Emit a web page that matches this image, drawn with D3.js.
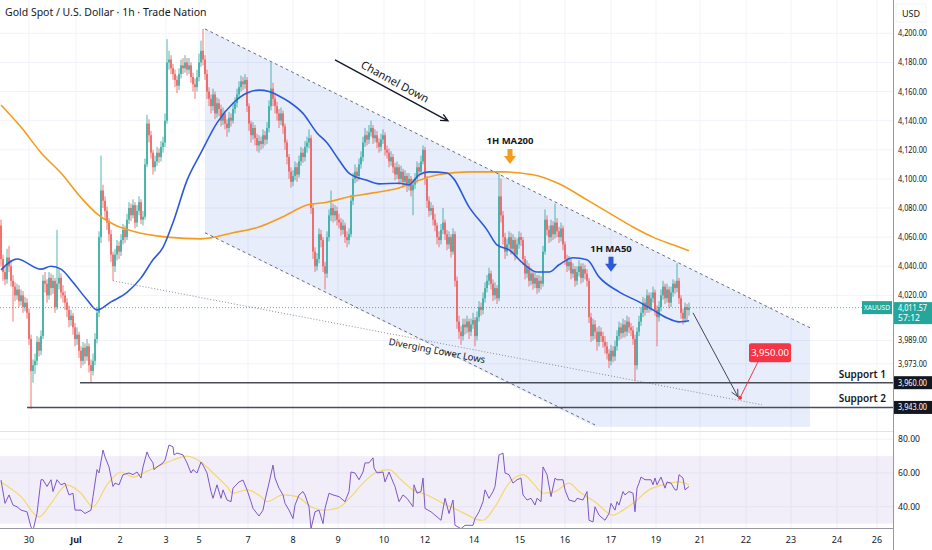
<!DOCTYPE html>
<html>
<head>
<meta charset="utf-8">
<script src="https://cdn.jsdelivr.net/npm/d3@7"></script>
<style>
body { margin: 0; background: #fff; }
svg { display: block; font-family: "Noto Sans", "DejaVu Sans", sans-serif; }
</style>
</head>
<body>
<svg id="chart" width="932" height="550"></svg>
<script>
// hourly candles, index 0 = first visible bar
var firstOpen = 4068;
var closes = [
	4045,4036,4031,4046,4040,4030,4026,4020,4024,4016,
	4020,4012,4015,4008,3990,3968,3972,3975,3988,3982,
	3992,4030,4028,4020,4032,4025,4030,4012,4028,4032,
	4022,4020,4015,4010,4003,4006,3998,3990,3993,3982,
	3975,3984,3978,3985,3972,3968,3975,3990,4008,4060,
	4092,4085,4078,4070,4062,4048,4040,4048,4054,4050,
	4058,4065,4060,4072,4080,4075,4082,4070,4078,4084,
	4072,4074,4110,4138,4130,4118,4108,4112,4118,4115,
	4122,4125,4140,4180,4182,4176,4172,4168,4164,4172,
	4178,4176,4180,4175,4178,4170,4165,4163,4170,4180,
	4188,4182,4172,4160,4155,4150,4158,4145,4152,4148,
	4140,4145,4138,4135,4142,4140,4148,4152,4158,4163,
	4167,4165,4168,4150,4138,4130,4135,4128,4123,4126,
	4124,4130,4127,4135,4150,4162,4155,4150,4145,4140,
	4145,4136,4125,4115,4105,4098,4102,4108,4103,4112,
	4118,4115,4122,4125,4128,4080,4050,4040,4045,4062,
	4058,4040,4035,4060,4075,4080,4075,4078,4072,4070,
	4065,4068,4060,4058,4062,4085,4100,4105,4102,4110,
	4115,4125,4130,4127,4132,4135,4128,4130,4125,4122,
	4127,4130,4120,4118,4112,4115,4108,4103,4108,4100,
	4105,4098,4102,4095,4100,4092,4096,4100,4108,4105,
	4112,4120,4100,4085,4078,4080,4072,4068,4060,4058,
	4065,4070,4062,4055,4060,4050,4062,4030,4002,3995,
	3992,4000,3998,4002,3995,4000,4003,3992,4005,4012,
	4010,4018,4025,4030,4035,4028,4020,4025,4018,4088,
	4075,4060,4050,4055,4060,4052,4058,4048,4055,4060,
	4058,4045,4035,4040,4030,4035,4028,4032,4025,4030,
	4028,4050,4072,4065,4060,4068,4062,4070,4064,4060,
	4066,4055,4045,4040,4043,4035,4038,4030,4036,4040,
	4032,4038,4035,4030,4005,3992,4000,3995,3988,3995,
	3992,3988,3985,3980,3975,3982,3978,3985,3992,3998,
	3994,4000,3995,4002,3998,3996,3990,3972,3995,4002,
	4008,4015,4010,4020,4012,4018,4022,4010,4005,4012,
	4020,4026,4018,4024,4015,4022,4028,4025,4030,4018,
	4008,4004,4012,4010,4011.57
];
var highs = [
	4072,4048,4040,4052,4054,4043,4034,4029,4028,4027,
	4024,4023,4019,4018,4011,3993,3976,3980,3992,3991,
	3996,4034,4036,4031,4036,4035,4034,4032,4065,4038,
	4035,4027,4023,4018,4013,4010,4008,4001,3998,3995,
	3985,3988,3987,3990,3987,3976,3980,3994,4012,4064,
	4116,4096,4088,4081,4073,4065,4050,4052,4058,4057,
	4062,4069,4068,4076,4084,4083,4086,4084,4082,4088,
	4086,4078,4114,4144,4141,4133,4120,4116,4122,4121,
	4126,4129,4145,4196,4188,4185,4179,4175,4171,4176,
	4182,4183,4185,4183,4183,4180,4173,4169,4175,4186,
	4195,4203,4185,4175,4163,4158,4162,4160,4156,4155,
	4151,4149,4147,4141,4146,4145,4152,4156,4162,4167,
	4171,4170,4172,4170,4152,4140,4139,4137,4131,4130,
	4129,4134,4133,4139,4154,4180,4166,4158,4153,4148,
	4149,4147,4138,4127,4117,4108,4106,4112,4111,4116,
	4122,4121,4126,4129,4134,4130,4083,4053,4049,4066,
	4065,4060,4043,4064,4079,4092,4083,4082,4081,4076,
	4073,4072,4070,4064,4066,4089,4104,4110,4108,4114,
	4119,4129,4135,4133,4137,4140,4137,4134,4133,4128,
	4131,4134,4132,4123,4121,4119,4117,4111,4112,4110,
	4109,4107,4106,4104,4104,4102,4100,4104,4112,4111,
	4116,4123,4122,4102,4088,4084,4082,4076,4070,4064,
	4069,4080,4072,4065,4064,4062,4066,4064,4033,4006,
	3999,4004,4004,4006,4004,4004,4008,4005,4009,4016,
	4015,4022,4029,4034,4039,4037,4031,4029,4027,4104,
	4100,4078,4063,4059,4064,4063,4062,4060,4059,4064,
	4063,4060,4047,4044,4042,4039,4037,4036,4034,4034,
	4033,4054,4079,4075,4068,4072,4071,4083,4073,4067,
	4070,4068,4057,4048,4047,4045,4042,4040,4040,4044,
	4042,4042,4041,4038,4032,4008,4004,4003,3998,3999,
	3998,3995,3992,3988,3983,3986,3985,3989,3996,4002,
	4001,4004,4003,4006,4005,4001,3999,3993,3998,4006,
	4012,4019,4018,4024,4022,4022,4026,4024,4013,4016,
	4024,4030,4028,4028,4026,4026,4031,4030,4042,4032,
	4020,4011,4015,4014,4015
];
var lows = [
	4040,4030,4027,4028,4036,4026,4002,4016,4017,4012,
	4013,4008,4009,4004,3986,3942,3960,3966,3972,3978,
	3979,3990,4022,4015,4017,4020,4021,4008,4010,4024,
	4018,4015,4010,4005,3998,3999,3993,3985,3986,3977,
	3970,3972,3973,3975,3967,3960,3965,3972,3987,4005,
	4056,4080,4072,4065,4057,4043,4030,4036,4044,4045,
	4047,4055,4056,4058,4069,4071,4073,4066,4067,4075,
	4069,4068,4072,4108,4125,4114,4103,4105,4109,4111,
	4112,4118,4122,4138,4175,4172,4168,4163,4159,4161,
	4169,4172,4173,4171,4172,4166,4160,4155,4160,4167,
	4177,4178,4168,4155,4150,4145,4147,4141,4142,4143,
	4136,4137,4134,4129,4132,4136,4138,4145,4149,4155,
	4160,4161,4162,4146,4133,4125,4127,4123,4119,4118,
	4120,4121,4123,4124,4132,4147,4150,4145,4140,4135,
	4137,4131,4120,4110,4100,4094,4095,4099,4098,4101,
	4109,4111,4112,4118,4121,4076,4045,4036,4037,4042,
	4053,4036,4024,4032,4057,4071,4070,4071,4068,4066,
	4061,4062,4056,4053,4055,4060,4082,4097,4098,4099,
	4107,4112,4122,4123,4124,4129,4124,4125,4121,4118,
	4119,4124,4116,4114,4108,4109,4104,4099,4100,4096,
	4097,4094,4095,4091,4092,4088,4075,4093,4097,4101,
	4103,4110,4096,4080,4074,4075,4068,4064,4055,4053,
	4055,4062,4058,4051,4052,4046,4048,4026,3997,3990,
	3986,3989,3993,3994,3990,3992,3997,3985,3989,4002,
	4006,4007,4015,4022,4027,4024,4016,4017,4014,4016,
	4070,4055,4045,4047,4052,4048,4049,4044,4045,4052,
	4054,4041,4031,4032,4026,4027,4024,4025,4021,4022,
	4024,4026,4048,4061,4056,4057,4058,4059,4060,4056,
	4057,4051,4041,4036,4037,4031,4032,4026,4027,4033,
	4028,4029,4031,4026,4001,3988,3989,3990,3982,3985,
	3988,3984,3980,3976,3970,3972,3974,3975,3982,3989,
	3990,3991,3991,3992,3994,3992,3986,3961,3969,3992,
	3999,4005,4006,4008,4008,4009,4015,4006,3985,4002,
	4009,4017,4014,4015,4011,4012,4019,4021,4022,4014,
	4004,4000,4001,4003,4006
];

// moving averages as [bar, price]
var ma50 = [
	[0,4037.5],[8,4045],[20,4038],[25,4040],[30,4038],[36,4029],[43,4017],[48,4010],
	[55,4015.5],[63,4022],[70,4032],[76,4044.4],[81,4053],[86,4070],[93,4099],[100,4118],
	[108,4138.5],[116,4152],[123,4159],[129,4161],[134,4160],[139,4157],[144,4153],[151,4145],
	[158,4131.6],[163,4124.8],[169,4113],[174,4104],[183,4099],[189,4096.6],[199,4097],[204,4096],
	[209,4102.8],[214,4104.8],[223,4104],[226,4100.7],[234,4080.8],[243,4065],[248,4054.7],[254,4051.3],
	[261,4042],[268,4036],[274,4036],[279,4041],[286,4045.8],[293,4044.4],[299,4032.7],[309,4022.4],
	[319,4015.5],[326,4010],[333,4004.5],[339,4001.8],[344,4002.5]
];
var ma200 = [
	[0,4150.8],[10,4135.6],[20,4118],[30,4104],[41,4085.6],[48,4076],[56,4069],[66,4064],
	[83,4060],[100,4058.8],[116,4063],[129,4067],[141,4074],[153,4082],[163,4084],[174,4087.7],
	[186,4090.4],[199,4093.8],[209,4099],[219,4103],[234,4104.8],[251,4104.8],[266,4102.8],[279,4096.6],
	[293,4085.6],[304,4076.7],[316,4067],[326,4060],[336,4054.7],[344,4050.6]
];

// RSI and its moving average, [bar, value]
var rsi = [
	[0,55.8],[2,42],[4,47],[6,41],[8,40],[10,38],[13,37],[15,28],[16,26],[18,36],[20,56],[21,56],
	[23,52],[25,56],[26,49],[28,56],[30,53],[32,54],[34,47],[36,48],[37,38],[40,38],[42,36],[45,38],
	[46,46],[48,62],[49,60],[51,73.6],[52,69.5],[54,63.6],[56,52],[57,54],[59,53],[61,59],[64,60],
	[66,59],[68,60.6],[70,57],[71,63.6],[73,72.5],[74,69.5],[76,66],[76.5,62],[78,63.6],[81,66],
	[82,67.7],[84,76.6],[86,75.5],[86.5,70.7],[88,71.8],[91,70.7],[93,66],[95,60],[96,62],[98,60],
	[100,66.5],[101,64.7],[103,60],[105,49],[106,45],[108,53],[110,45],[111,50],[113,44],[115,43],
	[116,51],[119,54.7],[121,55.8],[123,50],[125,43],[126,39],[129,34.5],[131,38],[132,44],[134,54],
	[136,64.7],[137,57],[139,51],[141,47],[142,42],[144,38],[146,33],[147,41],[149,47],[151,49],
	[152,47],[154,40],[155,27],[157,37],[159,38],[161,30],[162,39],[164,48],[166,47],[169,46],
	[171,44],[172,43],[174,49],[175,60.6],[177,60],[179,56],[181,60.6],[182,66],[184,66],[186,69],
	[186.5,63],[188,60],[191,60.6],[192,54.7],[194,60.6],[196,54.7],[197,52],[199,43],[201,47],
	[203,45],[206,40],[206.5,53],[208,48],[210,49],[211,57],[212,39],[215,37],[217,35],[220,32],
	[222,45],[224,36],[226,44],[227,29],[230,27],[232,29],[236,29],[237,33],[239,37],[241,43],
	[242,50],[244,45],[246,49],[247,52],[249,70.7],[251,71.8],[252,60],[254,59],[256,54],[258,56],
	[260,57],[261,47],[263,44],[265,45],[267,41],[268,45],[270,43],[271,63.6],[273,59],[275,46],
	[277,57],[278,56],[281,56],[282,50],[284,44],[287,43],[288,45],[291,44],[293,49],[294,32],
	[296,31],[297,40],[299,35],[301,33],[302,32],[304,36],[305,42],[307,38],[308,43],[309,41],
	[311,49],[312,47],[314,49],[316,48],[317,37],[318,51],[319,54],[320,57.6],[322,56],[323,56],
	[325,56],[326,53],[327,57],[328,53],[330,57.6],[332,51],[333,54.7],[335,54],[337,50],[338,50],
	[339,59],[341,57],[342,50],[343,51],[344,52]
];
var rsiMa = [
	[0,54.7],[10,46],[19,34],[25,42],[33,53],[40,48],[46,40],[53,53],[60,60.6],[66,57.6],[71,60],
	[78,63.6],[86,67.7],[93,70],[100,66.5],[106,60],[113,52],[116,48],[123,50],[130,46],[133,43],
	[141,47],[148,46],[155,40],[161,38],[168,39],[175,46],[181,54],[188,60.6],[194,62],[200,56],
	[206,50],[213,47],[221,42],[230,37],[235,34],[237,32.7],[241,32],[247,40],[254,54],[261,59],
	[266,54],[271,48],[277,49],[284,54],[289,49],[297,43],[306,35],[311,38],[317,43],[324,50],
	[331,53],[339,54.7],[344,53]
];

var priceTicks = [4200, 4180, 4160, 4140, 4120, 4100, 4080, 4060, 4040, 4020, 3989, 3973];
var rsiTicks = [80, 60, 40];
var dateTicks = [14, 37.5, 59.5, 82.5, 99, 123.5, 146, 168.5, 191.5, 212, 236.5, 259.5, 282, 305, 327.5, 349.5, 372.5, 395, 418, 438];
var dateLabels = ["30", "Jul", "2", "3", "5", "7", "8", "9", "10", "12", "14", "15", "16", "17", "19", "21", "22", "23", "24", "26"];

var lastPrice = 4011.57;
var countdown = "57:12";
var supports = [
	{ name: "Support 1", price: 3960, from: 39.5 },
	{ name: "Support 2", price: 3943, from: 13 }
];
// drawn objects, in [bar, price]
var channelTop = [[102, 4203], [404.5, 3997.7]];
var channelBottom = [[102, 4063], [297, 3931]];
var channelFill = [[102, 4203], [404.5, 3997.7], [404.5, 3929.7], [297, 3929.7], [102, 4063]];
var lowerLows = [[56, 4030], [380.5, 3944.8]];
var trendArrow = [[167, 4181.8], [223.5, 4139.9]];
var projection = [[346, 4008], [368.5, 3950.3]];
var target = { bar: 369.5, price: 3949.6, boxBar: 384.5, boxPrice: 3980.5, label: "3,950.00" };
var callouts = [
	{ label: "1H MA200", bar: 254.5, price: 4124, color: "#f59c1a" },
	{ label: "1H MA50", bar: 305, price: 4050, color: "#2a5ad8" }
];

var plotR = 893;
var svg = d3.select("#chart");
var x = d3.scaleLinear().domain([-0.5, 446]).range([0, plotR]);
var y = d3.scaleLinear().domain([3927.5, 4222.9]).range([430, 0]);
var yr = d3.scaleLinear().domain([27.4, 84.3]).range([528, 432]);
var fmt = d3.format(",.2f");
var upColor = "#26a69a", downColor = "#ef5350";

var defs = svg.append("defs");
defs.append("clipPath").attr("id", "clipPrice")
	.append("rect").attr("x", 0).attr("y", 0).attr("width", plotR).attr("height", 430);
defs.append("clipPath").attr("id", "clipRsi")
	.append("rect").attr("x", 0).attr("y", 432).attr("width", plotR).attr("height", 96);

// grid
var grid = svg.append("g").attr("stroke", "#f0f3fa").attr("stroke-width", 1);
grid.selectAll("line.v").data(dateTicks).enter().append("line")
	.attr("x1", function(d) { return x(d); }).attr("x2", function(d) { return x(d); })
	.attr("y1", 0).attr("y2", 528);
grid.selectAll("line.h").data(priceTicks).enter().append("line")
	.attr("x1", 0).attr("x2", plotR)
	.attr("y1", function(d) { return y(d); }).attr("y2", function(d) { return y(d); });
grid.selectAll("line.r").data(rsiTicks).enter().append("line")
	.attr("x1", 0).attr("x2", plotR)
	.attr("y1", function(d) { return yr(d); }).attr("y2", function(d) { return yr(d); });

var pt = function(d) { return [x(d[0]), y(d[1])]; };
var line = d3.line().x(function(d) { return x(d[0]); }).y(function(d) { return y(d[1]); });

var pricePane = svg.append("g").attr("clip-path", "url(#clipPrice)");

// channel background
pricePane.append("path")
	.attr("d", line(channelFill) + "Z")
	.attr("fill", "rgba(66,103,230,0.12)");

// candles
var bars = pricePane.append("g");
closes.forEach(function(c, i) {
	var o = i === 0 ? firstOpen : closes[i - 1];
	var col = c >= o ? upColor : downColor;
	var cx = x(i);
	bars.append("line")
		.attr("x1", cx).attr("x2", cx)
		.attr("y1", y(highs[i])).attr("y2", y(lows[i]))
		.attr("stroke", col).attr("stroke-width", 0.8);
	var top = y(Math.max(o, c)), bot = y(Math.min(o, c));
	bars.append("rect")
		.attr("x", cx - 0.7).attr("width", 1.4)
		.attr("y", top).attr("height", Math.max(bot - top, 0.8))
		.attr("fill", col);
});

// moving averages
var smooth = d3.line().curve(d3.curveMonotoneX)
	.x(function(d) { return x(d[0]); }).y(function(d) { return y(d[1]); });
pricePane.append("path").attr("d", smooth(ma200))
	.attr("fill", "none").attr("stroke", "#f59c1a").attr("stroke-width", 1.6);
pricePane.append("path").attr("d", smooth(ma50))
	.attr("fill", "none").attr("stroke", "#2a5ad8").attr("stroke-width", 1.6);

// channel lines
[channelTop, channelBottom].forEach(function(seg) {
	pricePane.append("path").attr("d", line(seg))
		.attr("fill", "none").attr("stroke", "#6a6d78").attr("stroke-width", 1)
		.attr("stroke-dasharray", "3,3");
});
pricePane.append("path").attr("d", line(lowerLows))
	.attr("fill", "none").attr("stroke", "#8a8d97").attr("stroke-width", 1)
	.attr("stroke-dasharray", "1,2");

// current price
pricePane.append("line")
	.attr("x1", 0).attr("x2", plotR).attr("y1", y(lastPrice)).attr("y2", y(lastPrice))
	.attr("stroke", upColor).attr("stroke-width", 1).attr("stroke-dasharray", "1,2").attr("opacity", 0.8);

// supports
supports.forEach(function(s) {
	pricePane.append("line")
		.attr("x1", x(s.from)).attr("x2", plotR).attr("y1", y(s.price)).attr("y2", y(s.price))
		.attr("stroke", "#4a4d57").attr("stroke-width", 1.6);
	pricePane.append("text")
		.attr("x", 886).attr("y", y(s.price) - 5)
		.attr("text-anchor", "end").attr("font-size", 10).attr("font-weight", 600)
		.attr("fill", "#131722").text(s.name);
});

function arrow(g, seg, color, width) {
	var a = pt(seg[0]), b = pt(seg[1]);
	var ang = Math.atan2(b[1] - a[1], b[0] - a[0]);
	var L = 8, spread = 0.45;
	var h1 = [b[0] - L * Math.cos(ang - spread), b[1] - L * Math.sin(ang - spread)];
	var h2 = [b[0] - L * Math.cos(ang + spread), b[1] - L * Math.sin(ang + spread)];
	g.append("path")
		.attr("d", "M" + a + "L" + b + "M" + h1 + "L" + b + "L" + h2)
		.attr("fill", "none").attr("stroke", color).attr("stroke-width", width);
	return ang * 180 / Math.PI;
}

var ann = svg.append("g");
var trendAngle = arrow(ann, trendArrow, "#131722", 1.3);
ann.append("text")
	.attr("transform", "translate(" + x(197) + "," + y(4166.7) + ") rotate(" + trendAngle + ")")
	.attr("text-anchor", "middle").attr("dy", "0.35em")
	.attr("font-size", 11).attr("fill", "#131722").text("Channel Down");

arrow(ann, projection, "#434651", 1);

var llAngle = Math.atan2(y(lowerLows[1][1]) - y(lowerLows[0][1]), x(lowerLows[1][0]) - x(lowerLows[0][0])) * 180 / Math.PI;
ann.append("text")
	.attr("transform", "translate(" + x(218) + "," + y(3982) + ") rotate(" + llAngle + ")")
	.attr("text-anchor", "middle").attr("dy", "0.35em")
	.attr("font-size", 9.5).attr("fill", "#131722").text("Diverging Lower Lows");

// MA callouts with down arrows
callouts.forEach(function(c) {
	var cx = x(c.bar), cy = y(c.price);
	ann.append("text").attr("x", cx).attr("y", cy)
		.attr("text-anchor", "middle").attr("font-size", 9.5).attr("font-weight", 700)
		.attr("fill", "#131722").text(c.label);
	var t = cy + 5;
	ann.append("path")
		.attr("d", "M" + (cx - 2.5) + "," + t + "H" + (cx + 2.5) + "V" + (t + 7) + "H" + (cx + 6) +
			"L" + cx + "," + (t + 15) + "L" + (cx - 6) + "," + (t + 7) + "H" + (cx - 2.5) + "Z")
		.attr("fill", c.color);
});

// target
var tp = [x(target.bar), y(target.price)];
var bp = [x(target.boxBar), y(target.boxPrice)];
ann.append("line").attr("x1", tp[0]).attr("y1", tp[1]).attr("x2", bp[0] - 12).attr("y2", bp[1] + 9)
	.attr("stroke", "#f23645").attr("stroke-width", 1);
ann.append("circle").attr("cx", tp[0]).attr("cy", tp[1]).attr("r", 2).attr("fill", "#f23645");
ann.append("rect").attr("x", bp[0] - 21).attr("y", bp[1] - 9.5).attr("width", 42).attr("height", 19)
	.attr("rx", 2).attr("fill", "#f23645");
ann.append("text").attr("x", bp[0]).attr("y", bp[1]).attr("dy", "0.35em")
	.attr("text-anchor", "middle").attr("font-size", 9.5).attr("fill", "#fff").text(target.label);

// RSI pane
svg.append("rect").attr("x", 0).attr("width", plotR)
	.attr("y", yr(70)).attr("height", yr(30) - yr(70))
	.attr("fill", "rgba(126,87,194,0.1)");
var rsiPane = svg.append("g").attr("clip-path", "url(#clipRsi)");
var rline = d3.line().x(function(d) { return x(d[0]); }).y(function(d) { return yr(d[1]); });
rsiPane.append("path").attr("d", d3.line().curve(d3.curveMonotoneX)
		.x(function(d) { return x(d[0]); }).y(function(d) { return yr(d[1]); })(rsiMa))
	.attr("fill", "none").attr("stroke", "#f5d76e").attr("stroke-width", 1.2);
rsiPane.append("path").attr("d", rline(rsi))
	.attr("fill", "none").attr("stroke", "#7e57c2").attr("stroke-width", 1);

// axes borders
svg.append("line").attr("x1", plotR + 0.5).attr("x2", plotR + 0.5).attr("y1", 0).attr("y2", 550)
	.attr("stroke", "#9598a1").attr("stroke-width", 1);
svg.append("line").attr("x1", 0).attr("x2", plotR).attr("y1", 528.5).attr("y2", 528.5)
	.attr("stroke", "#9598a1").attr("stroke-width", 1);
svg.append("line").attr("x1", 0).attr("x2", plotR).attr("y1", 431.5).attr("y2", 431.5)
	.attr("stroke", "#e0e3eb").attr("stroke-width", 1);

// right-hand labels squeezed to the narrow price scale
function axisLabel(g, txt, yy, color) {
	return g.append("text").attr("x", 898).attr("y", yy).attr("dy", "0.35em")
		.attr("font-size", 8.5).attr("fill", color)
		.attr("textLength", txt.length > 6 ? 29 : txt.length * 4.4)
		.attr("lengthAdjust", "spacingAndGlyphs")
		.text(txt);
}
var axisText = svg.append("g");
priceTicks.forEach(function(d) { axisLabel(axisText, fmt(d), y(d), "#131722"); });
rsiTicks.forEach(function(d) { axisLabel(axisText, fmt(d), yr(d), "#131722"); });
axisText.selectAll("text.d").data(dateTicks).enter().append("text")
	.attr("x", function(d) { return x(d); }).attr("y", 543)
	.attr("text-anchor", "middle").attr("font-size", 9).attr("fill", "#131722")
	.attr("font-weight", function(d, i) { return dateLabels[i] === "Jul" ? 700 : 400; })
	.text(function(d, i) { return dateLabels[i]; });

svg.append("rect").attr("x", 896).attr("y", 4).attr("width", 30).attr("height", 18)
	.attr("fill", "#fff").attr("stroke", "#f0f3fa");
svg.append("text").attr("x", 902).attr("y", 17).attr("font-size", 9).attr("fill", "#131722").text("USD");

// last price tags
var ly = y(lastPrice);
svg.append("rect").attr("x", 862).attr("y", ly - 6.5).attr("width", 30).attr("height", 13).attr("fill", upColor);
svg.append("text").attr("x", 877).attr("y", ly).attr("dy", "0.35em").attr("text-anchor", "middle")
	.attr("font-size", 7).attr("fill", "#fff").attr("textLength", 26).attr("lengthAdjust", "spacingAndGlyphs")
	.text("XAUUSD");
svg.append("rect").attr("x", plotR + 1).attr("y", ly - 5.5).attr("width", 38).attr("height", 22).attr("fill", upColor);
axisLabel(svg, fmt(lastPrice), ly + 0.5, "#fff");
axisLabel(svg, countdown, ly + 10.5, "#fff");

supports.forEach(function(s) {
	svg.append("rect").attr("x", plotR + 1).attr("y", y(s.price) - 6.5).attr("width", 38).attr("height", 13).attr("fill", "#131722");
	axisLabel(svg, fmt(s.price), y(s.price), "#fff");
});

// title
svg.append("text").attr("x", 5).attr("y", 16).attr("font-size", 10.5).attr("fill", "#131722")
	.text("Gold Spot / U.S. Dollar · 1h · Trade Nation");
</script>
</body>
</html>
